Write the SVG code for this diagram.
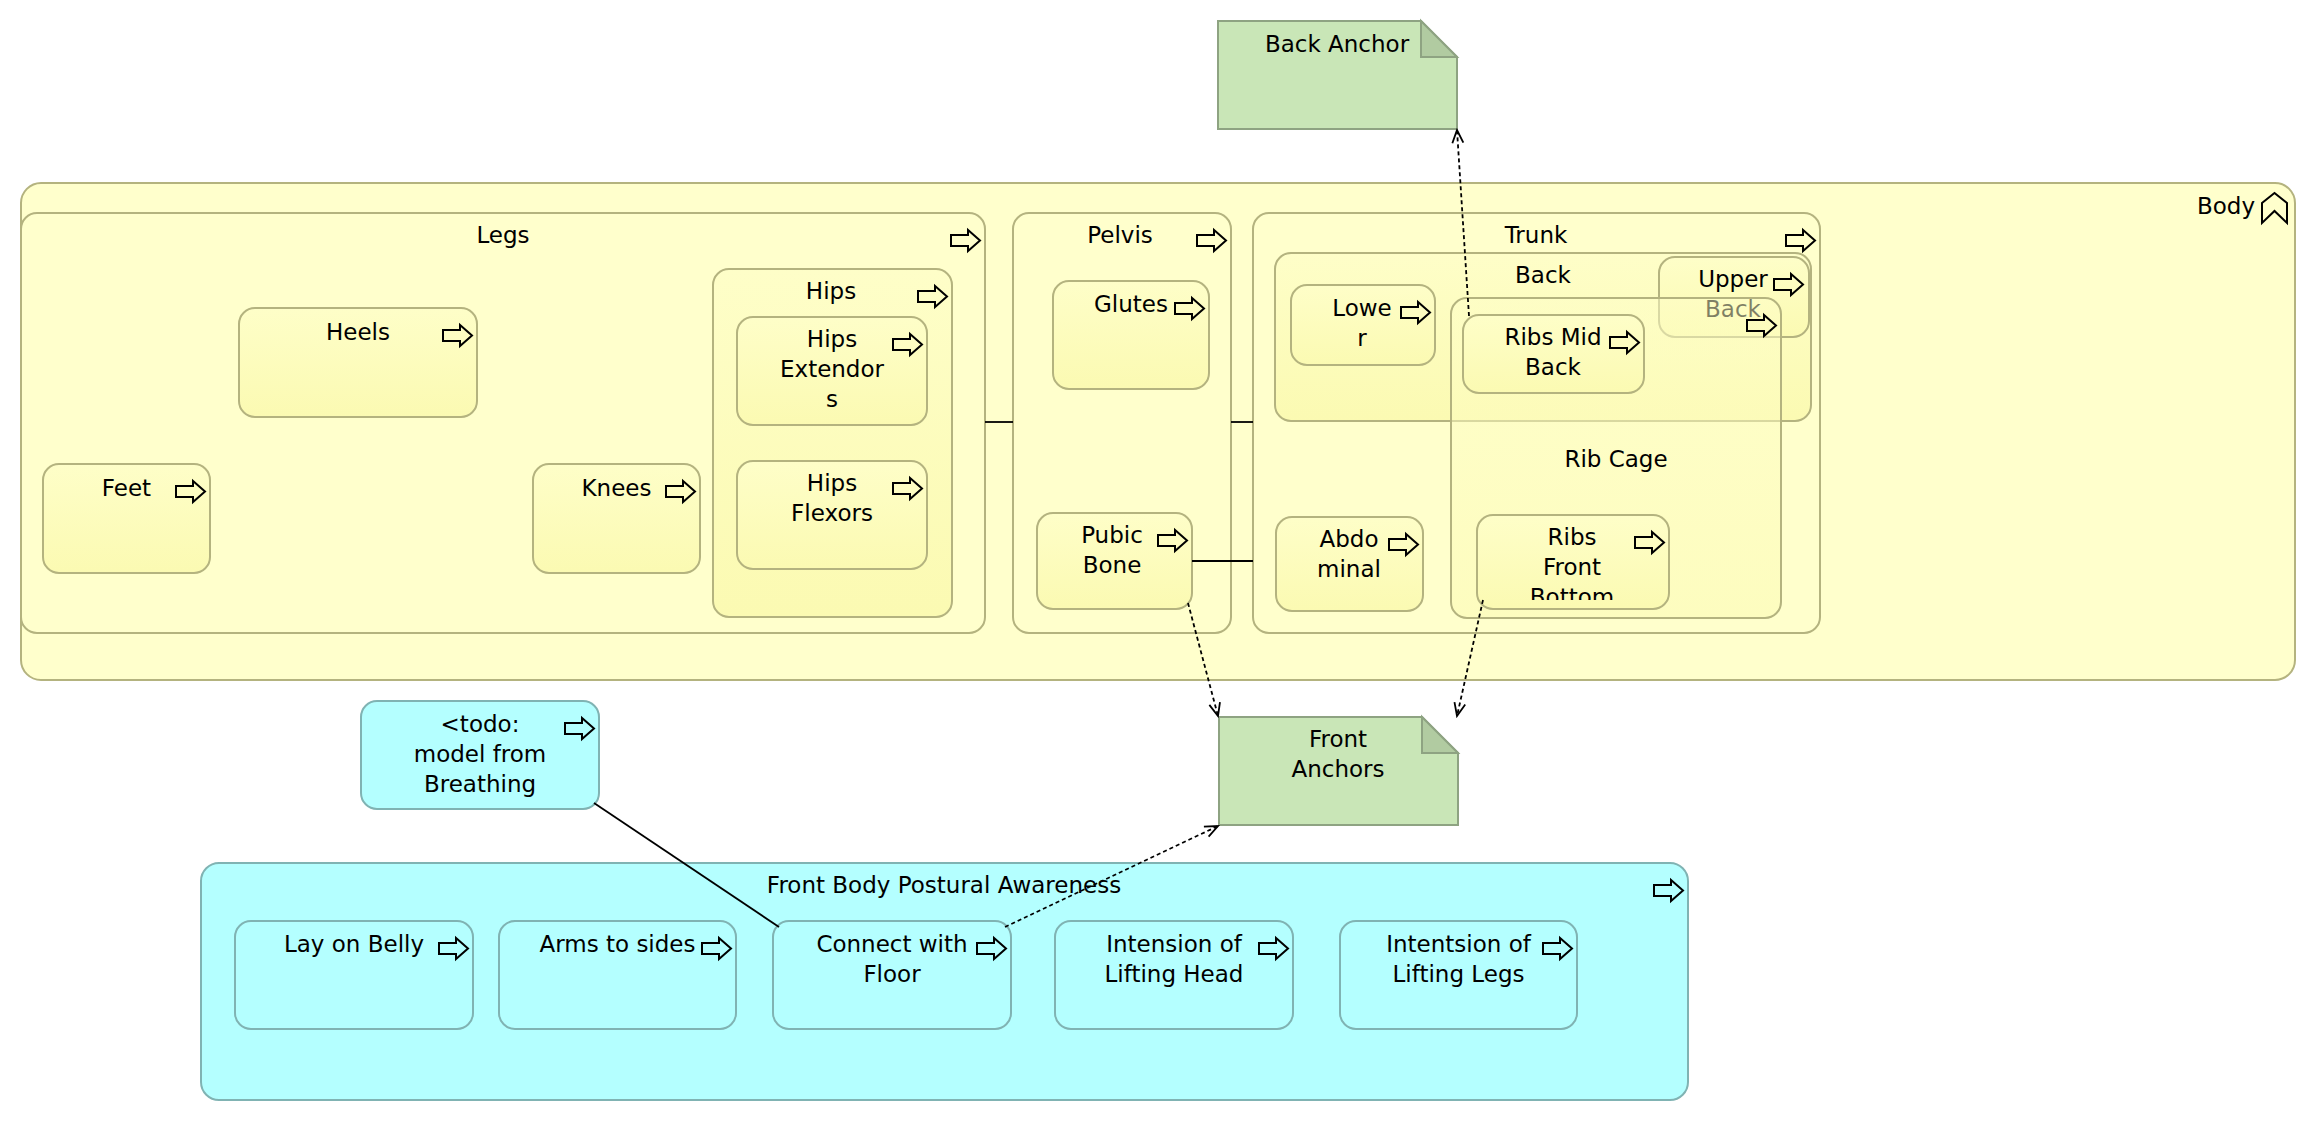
<svg xmlns="http://www.w3.org/2000/svg" width="2318" height="1122" viewBox="0 0 2318 1122">
<style>
.t{font-family:"DejaVu Sans","Noto Sans",sans-serif;font-size:23px;fill:#000;text-anchor:middle}
.top{fill:#ffffcc;stroke:#b4b37f;stroke-width:2}
.biz{fill:url(#gy);stroke:#b4b37f;stroke-width:2}
.app{fill:#b4ffff;stroke:#80b3b3;stroke-width:2}
.art{fill:#c9e6b7;stroke:#8ea382;stroke-width:2}
.fold{fill:#b1cba1;stroke:#8ea382;stroke-width:2}
.ico{fill:none;stroke:#000;stroke-width:2}
.conn{fill:none;stroke:#000;stroke-width:1.8}
.dot{stroke-dasharray:4 3}
</style>
<defs>
<linearGradient id="gy" x1="0" y1="0" x2="0" y2="1">
<stop offset="0" stop-color="#fefec8"/>
<stop offset="1" stop-color="#fbfab2"/>
</linearGradient>
<path id="proc" d="M0,5 H17 V0 L29,10.5 L17,21 V16 H0 Z"/>
<marker id="arr" markerUnits="userSpaceOnUse" markerWidth="16" markerHeight="14" viewBox="0 0 16 14" refX="14" refY="7" orient="auto">
<path d="M1,1.5 L14,7 L1,12.5" fill="none" stroke="#000" stroke-width="1.8"/>
</marker>
<clipPath id="clipLower"><rect x="1291" y="285" width="144" height="73"/></clipPath>
<clipPath id="clipRFB"><rect x="1477" y="515" width="192" height="85"/></clipPath>
</defs>

<g id="body">
<rect class="top" x="21" y="183" width="2274" height="497" rx="20"/>
<text class="t" x="2255" y="214" style="text-anchor:end">Body</text>
<path class="ico" d="M2262,223 V203 L2274.5,193 L2287,203 V223 L2274.5,211 Z"/>
</g>

<g id="legs">
<rect class="top" x="21" y="213" width="964" height="420" rx="16"/>
<text class="t" x="503" y="243">Legs</text>
<use href="#proc" class="ico" x="951" y="230"/>
</g>
<g id="heels">
<rect class="biz" x="239" y="308" width="238" height="109" rx="16"/>
<text class="t" x="358" y="340">Heels</text>
<use href="#proc" class="ico" x="443" y="325"/>
</g>
<g id="feet">
<rect class="biz" x="43" y="464" width="167" height="109" rx="16"/>
<text class="t" x="126.5" y="496">Feet</text>
<use href="#proc" class="ico" x="176" y="481"/>
</g>
<g id="knees">
<rect class="biz" x="533" y="464" width="167" height="109" rx="16"/>
<text class="t" x="616.5" y="496">Knees</text>
<use href="#proc" class="ico" x="666" y="481"/>
</g>
<g id="hips">
<rect class="biz" x="713" y="269" width="239" height="348" rx="16"/>
<text class="t" x="831" y="299">Hips</text>
<use href="#proc" class="ico" x="918" y="286"/>
</g>
<g id="hips-extendors">
<rect class="biz" x="737" y="317" width="190" height="108" rx="16"/>
<text class="t" x="832" y="347">Hips</text>
<text class="t" x="832" y="377">Extendor</text>
<text class="t" x="832" y="407">s</text>
<use href="#proc" class="ico" x="893" y="334"/>
</g>
<g id="hips-flexors">
<rect class="biz" x="737" y="461" width="190" height="108" rx="16"/>
<text class="t" x="832" y="491">Hips</text>
<text class="t" x="832" y="521">Flexors</text>
<use href="#proc" class="ico" x="893" y="478"/>
</g>

<g id="pelvis">
<rect class="top" x="1013" y="213" width="218" height="420" rx="16"/>
<text class="t" x="1120" y="243">Pelvis</text>
<use href="#proc" class="ico" x="1197" y="230"/>
</g>
<g id="glutes">
<rect class="biz" x="1053" y="281" width="156" height="108" rx="16"/>
<text class="t" x="1131" y="312">Glutes</text>
<use href="#proc" class="ico" x="1175" y="298"/>
</g>
<g id="pubic-bone">
<rect class="biz" x="1037" y="513" width="155" height="96" rx="16"/>
<text class="t" x="1112" y="543">Pubic</text>
<text class="t" x="1112" y="573">Bone</text>
<use href="#proc" class="ico" x="1158" y="530"/>
</g>

<g id="trunk">
<rect class="top" x="1253" y="213" width="567" height="420" rx="16"/>
<text class="t" x="1536" y="243">Trunk</text>
<use href="#proc" class="ico" x="1786" y="230"/>
</g>
<g id="back">
<rect class="biz" x="1275" y="253" width="536" height="168" rx="16"/>
<text class="t" x="1543" y="283">Back</text>
<use href="#proc" class="ico" x="1777" y="270"/>
</g>
<g id="lower-back">
<rect class="biz" x="1291" y="285" width="144" height="80" rx="16"/>
<text class="t" x="1362" y="316">Lowe</text>
<text class="t" x="1362" y="346">r</text>
<text class="t" x="1362" y="376" clip-path="url(#clipLower)">Back</text>
<use href="#proc" class="ico" x="1401" y="302"/>
</g>
<g id="upper-back">
<rect class="biz" x="1659" y="257" width="150" height="80" rx="16"/>
<text class="t" x="1733" y="287">Upper</text>
<text class="t" x="1733" y="317">Back</text>
<use href="#proc" class="ico" x="1774" y="274"/>
</g>
<g id="rib-cage">
<rect class="biz" x="1451" y="298" width="330" height="320" rx="16" fill-opacity="0.5"/>
<text class="t" x="1616" y="467">Rib Cage</text>
<use href="#proc" class="ico" x="1747" y="315"/>
</g>
<g id="ribs-mid-back">
<rect class="biz" x="1463" y="315" width="181" height="78" rx="16"/>
<text class="t" x="1553" y="345">Ribs Mid</text>
<text class="t" x="1553" y="375">Back</text>
<use href="#proc" class="ico" x="1610" y="332"/>
</g>
<g id="abdominal">
<rect class="biz" x="1276" y="517" width="147" height="94" rx="16"/>
<text class="t" x="1349" y="547">Abdo</text>
<text class="t" x="1349" y="577">minal</text>
<use href="#proc" class="ico" x="1389" y="534"/>
</g>
<g id="ribs-front-bottom">
<rect class="biz" x="1477" y="515" width="192" height="94" rx="16"/>
<text class="t" x="1572" y="545">Ribs</text>
<text class="t" x="1572" y="575">Front</text>
<text class="t" x="1572" y="605" clip-path="url(#clipRFB)">Bottom</text>
<use href="#proc" class="ico" x="1635" y="532"/>
</g>

<g id="back-anchor">
<path class="art" d="M1218,21 H1421 L1457,57 V129 H1218 Z"/>
<path class="fold" d="M1421,21 V57 H1457 Z"/>
<text class="t" x="1337" y="52">Back Anchor</text>
</g>
<g id="front-anchors">
<path class="art" d="M1219,717 H1422 L1458,753 V825 H1219 Z"/>
<path class="fold" d="M1422,717 V753 H1458 Z"/>
<text class="t" x="1338" y="747">Front</text>
<text class="t" x="1338" y="777">Anchors</text>
</g>

<g id="todo">
<rect class="app" x="361" y="701" width="238" height="108" rx="16"/>
<text class="t" x="480" y="732">&lt;todo:</text>
<text class="t" x="480" y="762">model from</text>
<text class="t" x="480" y="792">Breathing</text>
<use href="#proc" class="ico" x="565" y="718"/>
</g>
<g id="front-body-postural-awareness">
<rect class="app" x="201" y="863" width="1487" height="237" rx="18"/>
<text class="t" x="944" y="893">Front Body Postural Awareness</text>
<use href="#proc" class="ico" x="1654" y="880"/>
</g>
<g id="lay-on-belly">
<rect class="app" x="235" y="921" width="238" height="108" rx="16"/>
<text class="t" x="354" y="952">Lay on Belly</text>
<use href="#proc" class="ico" x="439" y="938"/>
</g>
<g id="arms-to-sides">
<rect class="app" x="499" y="921" width="237" height="108" rx="16"/>
<text class="t" x="617.5" y="952">Arms to sides</text>
<use href="#proc" class="ico" x="702" y="938"/>
</g>
<g id="connect-with-floor">
<rect class="app" x="773" y="921" width="238" height="108" rx="16"/>
<text class="t" x="892" y="952">Connect with</text>
<text class="t" x="892" y="982">Floor</text>
<use href="#proc" class="ico" x="977" y="938"/>
</g>
<g id="intension-lifting-head">
<rect class="app" x="1055" y="921" width="238" height="108" rx="16"/>
<text class="t" x="1174" y="952">Intension of</text>
<text class="t" x="1174" y="982">Lifting Head</text>
<use href="#proc" class="ico" x="1259" y="938"/>
</g>
<g id="intentsion-lifting-legs">
<rect class="app" x="1340" y="921" width="237" height="108" rx="16"/>
<text class="t" x="1458.5" y="952">Intentsion of</text>
<text class="t" x="1458.5" y="982">Lifting Legs</text>
<use href="#proc" class="ico" x="1543" y="938"/>
</g>

<g id="connectors">
<path class="conn" d="M985,422 H1013"/>
<path class="conn" d="M1231,422 H1253"/>
<path class="conn" d="M1192,561 H1253"/>
<path class="conn" d="M594,803 L779,927"/>
<path class="conn dot" d="M1469,316 L1457,130" marker-end="url(#arr)"/>
<path class="conn dot" d="M1188,603 L1218,716" marker-end="url(#arr)"/>
<path class="conn dot" d="M1483,600 L1457,716" marker-end="url(#arr)"/>
<path class="conn dot" d="M1005,927 L1218,826" marker-end="url(#arr)"/>
</g>
</svg>
